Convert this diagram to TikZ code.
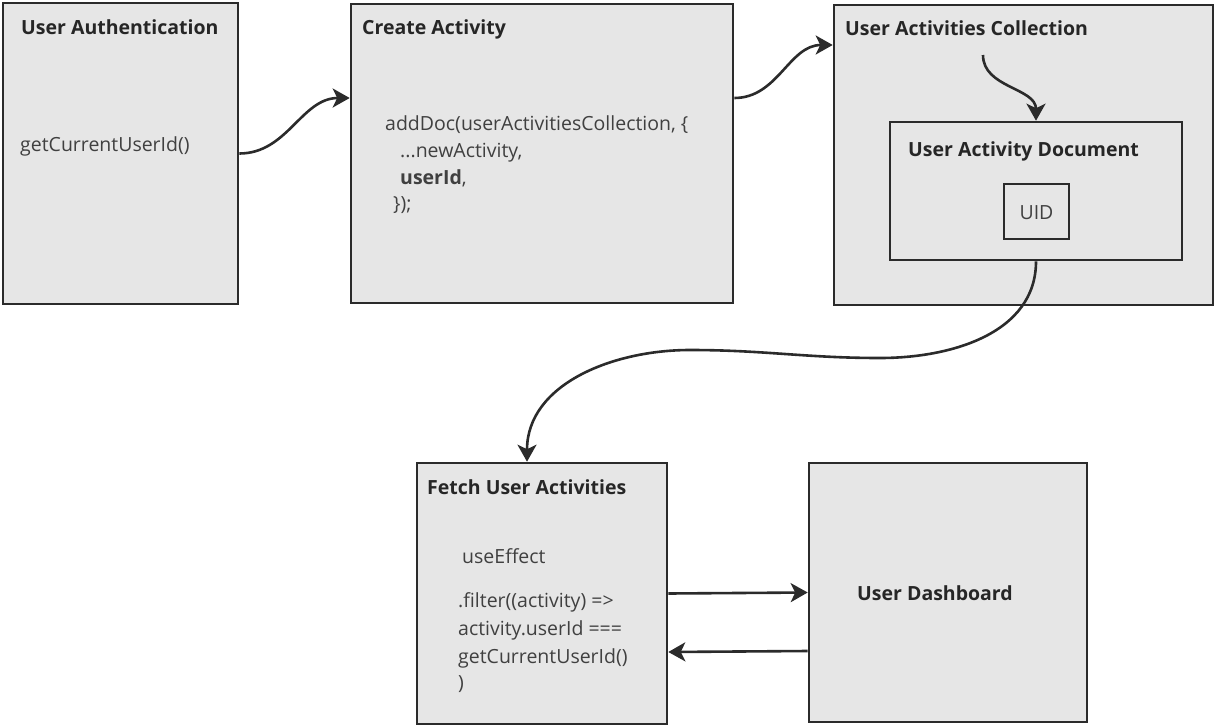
\documentclass[tikz,border=0pt]{standalone}
\usepackage{fontspec}
\setmainfont{Open Sans}
\usetikzlibrary{arrows.meta}
\definecolor{boxfill}{HTML}{E6E6E6}
\definecolor{boxline}{HTML}{2B2B2B}
\definecolor{txtgray}{HTML}{404040}
\begin{document}
\begin{tikzpicture}[x=1pt, y=-1pt, >={Stealth[length=17pt, width=19pt, inset=4.5pt]},
  panel/.style={draw=boxline, fill=boxfill, line width=2.6pt, inner sep=0pt},
  title/.style={anchor=base west, inner sep=0pt, font=\fontsize{19.5}{23}\selectfont\bfseries, text=black!85},
  code/.style={anchor=base west, inner sep=0pt, font=\fontsize{19.5}{23}\selectfont, text=txtgray},
  link/.style={->, line width=2.6pt, draw=boxline}]
				\useasboundingbox (0,0) rectangle (1216,726);
				
				% 上排方框
				\node[panel, minimum width=235pt, minimum height=301pt] (auth) at (120.5,153.5) {};
				\node[panel, minimum width=382pt, minimum height=299pt] (create) at (542,153.5) {};
				\node[panel, minimum width=379pt, minimum height=300pt] (coll) at (1023.5,155) {};
				\node[panel, minimum width=292pt, minimum height=138pt] (doc) at (1036,191) {};
				\node[panel, minimum width=65pt, minimum height=55pt] (uid) at (1036.5,211.5) {};
				
				% 下排方框
				\node[panel, minimum width=250pt, minimum height=261pt] (fetch) at (542,593.5) {};
				\node[panel, minimum width=278pt, minimum height=259pt] (dash) at (948,592.5) {};
				
				% 标题
				\node[title] (authT) at (21,34) {User Authentication};
				\node[title] (createT) at (362,34) {Create Activity};
				\node[title] (collT) at (845,35) {User Activities Collection};
				\node[title] (docT) at (908,156) {User Activity Document};
				\node[title] (fetchT) at (427,494) {Fetch User Activities};
				\node[title, anchor=base] (dashT) at (935,600) {User Dashboard};
				
				% 代码文字
				\node[code] (authC) at (20,151) {getCurrentUserId()};
				\node[code] (addA) at (385,130) {addDoc(userActivitiesCollection, \{};
				\node[code] (addB) at (400,157) {...newActivity,};
				\node[code] (addC) at (400,184) {\textbf{userId},};
				\node[code] (addD) at (393,210) {\});};
				\node[code, anchor=base] (uidT) at (1036.5,219) {UID};
				\node[code] (effA) at (462,563) {useEffect};
				\node[code] (effB) at (458,607) {.filter((activity) =>};
				\node[code] (effC) at (458,635) {activity.userId ===};
				\node[code] (effD) at (458,663) {getCurrentUserId()};
				\node[code] (effE) at (458,689) {)};
				
				% 连线
				\coordinate (collIn) at (983,55);
				\draw[link] (auth.east) to[out=0, in=180] ([yshift=55.5pt]create.west);
				\draw[link] ([yshift=55.5pt]create.east) to[out=0, in=180] ([yshift=110pt]coll.west);
				\draw[link] (collIn) to[out=-90, in=90] (doc.north);
				\draw[link] (doc.south) to[out=-90, in=0] (880,358) to[out=180, in=0] (690,350) to[out=180, in=90] ([xshift=-15pt]fetch.north);
				\draw[link] (fetch.east) -- (dash.west);
				\draw[link] ([yshift=-58.5pt]dash.west) -- ([yshift=-58.5pt]fetch.east);
			\end{tikzpicture}
\end{document}
